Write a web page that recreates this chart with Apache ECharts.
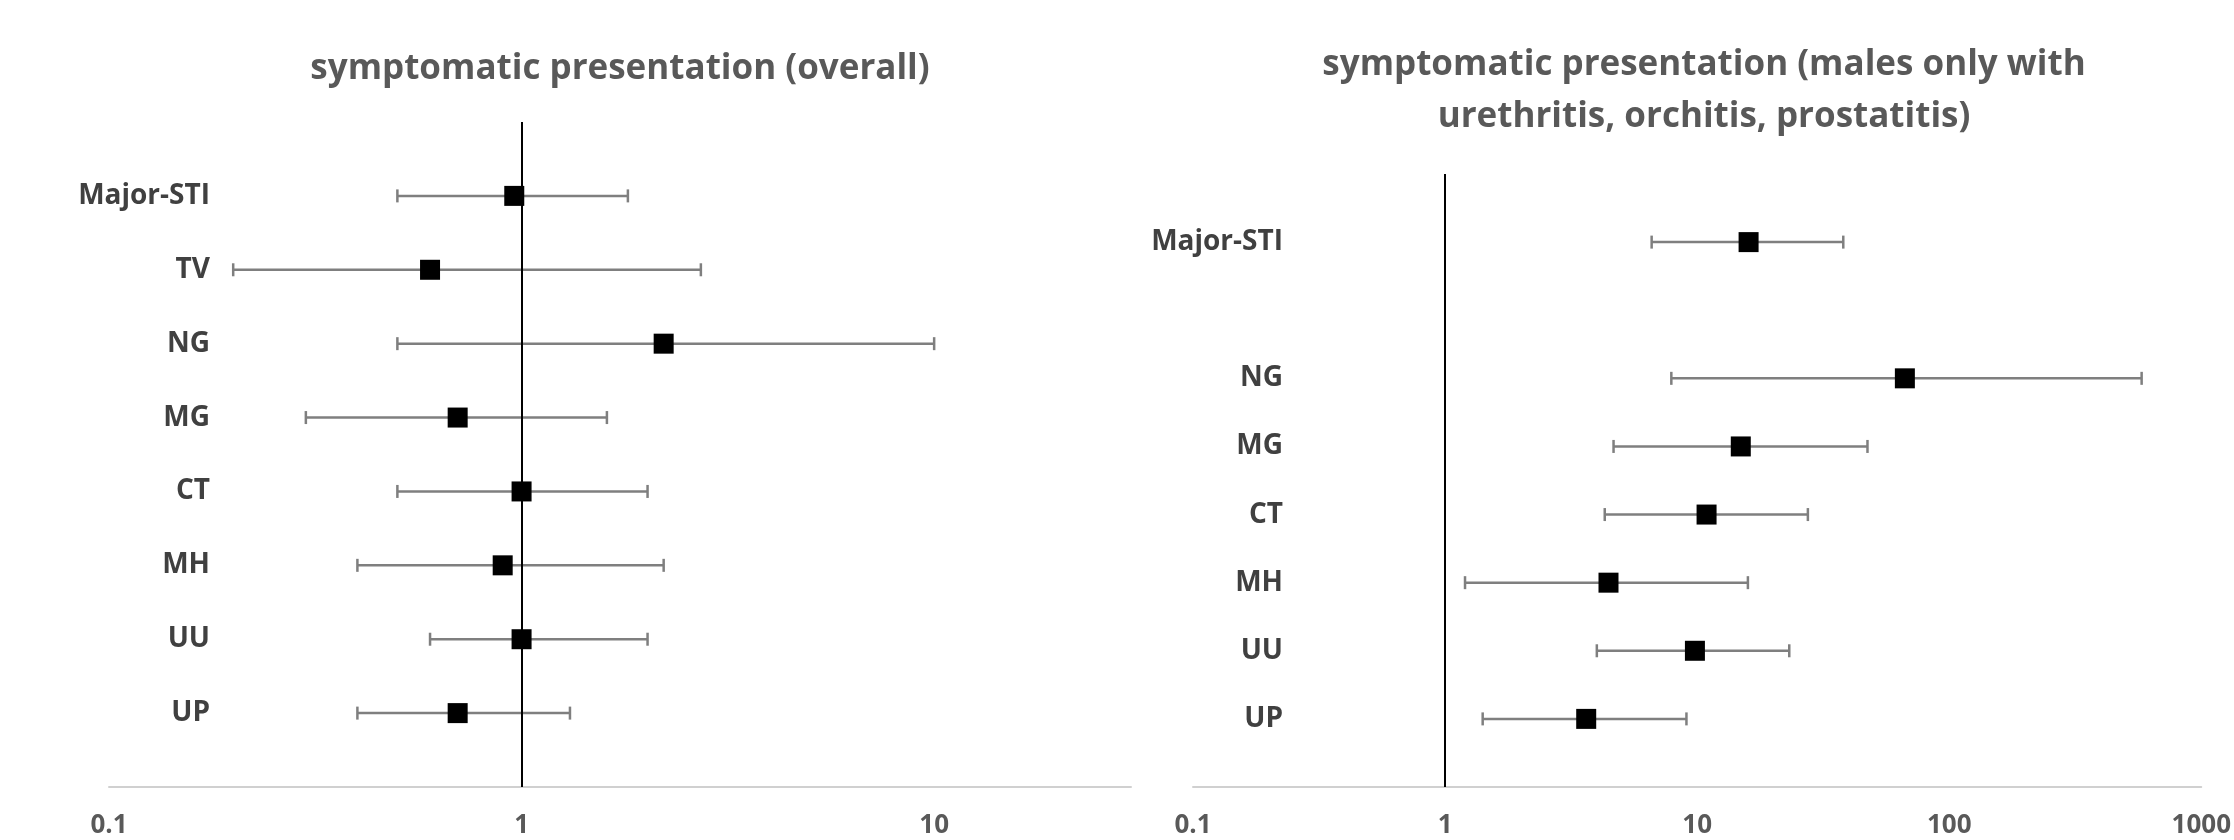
<!DOCTYPE html>
<html>
<head>
<meta charset="utf-8">
<script src="https://cdn.jsdelivr.net/npm/echarts@6/dist/echarts.min.js"></script>
<style>
  html, body { margin: 0; padding: 0; background: #fff; }
  #main { width: 2234px; height: 840px; }
</style>
</head>
<body>
<div id="main"></div>
<script>
// odds ratios with 95% CI
var leftCategories = ['Major-STI', 'TV', 'NG', 'MG', 'CT', 'MH', 'UU', 'UP'];
var leftOR   = [0.96, 0.60, 2.21, 0.70, 1.00, 0.90, 1.00, 0.70];
var leftLow  = [0.50, 0.20, 0.50, 0.30, 0.50, 0.40, 0.60, 0.40];
var leftHigh = [1.81, 2.72, 10.0, 1.61, 2.02, 2.21, 2.02, 1.31];

// males only: no TV row, slot left blank
var rightCategories = ['Major-STI', '', 'NG', 'MG', 'CT', 'MH', 'UU', 'UP'];
var rightOR   = [16.0, null, 66.7, 14.9, 10.9, 4.45, 9.8, 3.63];
var rightLow  = [6.6, null, 7.9, 4.66, 4.3, 1.2, 4.0, 1.41];
var rightHigh = [38, null, 580, 47.4, 27.5, 15.9, 23.2, 9.07];

var leftTicks = [0.1, 1, 10];
var rightTicks = [0.1, 1, 10, 100, 1000];

var FONT = '"Open Sans"';

function yAxisFor(idx, cats, margin) {
    return {
        type: 'category',
        gridIndex: idx,
        inverse: true,
        boundaryGap: false,
        data: [''].concat(cats, ['']),
        axisLine: { show: false },
        axisTick: { show: false },
        splitLine: { show: false },
        axisLabel: {
            interval: 0,
            margin: margin,
            fontFamily: FONT,
            fontWeight: 'bold',
            fontSize: 28,
            color: '#404040'
        }
    };
}

function xAxisFor(idx, max, ticks) {
    return {
        type: 'log',
        logBase: 10,
        gridIndex: idx,
        min: 0.1,
        max: max,
        axisLine: { show: true, lineStyle: { color: '#d0d0d0', width: 2 } },
        axisTick: { show: false },
        splitLine: { show: false },
        axisLabel: {
            margin: 26,
            fontFamily: FONT,
            fontWeight: 'bold',
            fontSize: 26,
            color: '#595959',
            formatter: function (v) {
                for (var i = 0; i < ticks.length; i++) {
                    if (Math.abs(Math.log10(v) - Math.log10(ticks[i])) < 1e-6) return String(ticks[i]);
                }
                return '';
            }
        }
    };
}

function errorBars(idx, low, high) {
    var rows = [];
    low.forEach(function (v, i) {
        if (v != null) rows.push([v, high[i], i + 1]);
    });
    return {
        type: 'custom',
        xAxisIndex: idx,
        yAxisIndex: idx,
        silent: true,
        z: 2,
        encode: { x: [0, 1], y: 2 },
        data: rows,
        renderItem: function (params, api) {
            var a = api.coord([api.value(0), api.value(2)]);
            var b = api.coord([api.value(1), api.value(2)]);
            var h = 6.5;
            var st = { stroke: '#7f7f7f', lineWidth: 2.5 };
            return {
                type: 'group',
                children: [
                    { type: 'line', shape: { x1: a[0], y1: a[1], x2: b[0], y2: b[1] }, style: st },
                    { type: 'line', shape: { x1: a[0], y1: a[1] - h, x2: a[0], y2: a[1] + h }, style: st },
                    { type: 'line', shape: { x1: b[0], y1: b[1] - h, x2: b[0], y2: b[1] + h }, style: st }
                ]
            };
        }
    };
}

function points(idx, or) {
    var rows = [];
    or.forEach(function (v, i) {
        if (v != null) rows.push([v, i + 1]);
    });
    return {
        type: 'scatter',
        xAxisIndex: idx,
        yAxisIndex: idx,
        symbol: 'rect',
        symbolSize: 20,
        itemStyle: { color: '#000', opacity: 1 },
        z: 3,
        data: rows,
        markLine: {
            silent: true,
            symbol: ['none', 'none'],
            label: { show: false },
            lineStyle: { color: '#000', width: 2, type: 'solid' },
            data: [{ xAxis: 1 }]
        }
    };
}

var titleStyle = {
    fontFamily: FONT,
    fontWeight: 'bold',
    fontSize: 35,
    color: '#595959',
    lineHeight: 52
};

var chart = echarts.init(document.getElementById('main'));
chart.setOption({
    animation: false,
    backgroundColor: '#fff',
    title: [
        {
            text: 'symptomatic presentation (overall)',
            left: 620, top: 43, padding: 0,
            textAlign: 'center',
            textStyle: titleStyle
        },
        {
            text: 'symptomatic presentation (males only with\nurethritis, orchitis, prostatitis)',
            left: 1704, top: 39, padding: 0,
            textAlign: 'center',
            textStyle: titleStyle
        }
    ],
    grid: [
        { left: 109, right: 1103, top: 122, bottom: 53 },
        { left: 1193, right: 31, top: 174, bottom: 53 }
    ],
    xAxis: [xAxisFor(0, 30, leftTicks), xAxisFor(1, 1000, rightTicks)],
    yAxis: [yAxisFor(0, leftCategories, -101), yAxisFor(1, rightCategories, -90)],
    series: [
        errorBars(0, leftLow, leftHigh),
        points(0, leftOR),
        errorBars(1, rightLow, rightHigh),
        points(1, rightOR)
    ]
});
</script>
</body>
</html>
